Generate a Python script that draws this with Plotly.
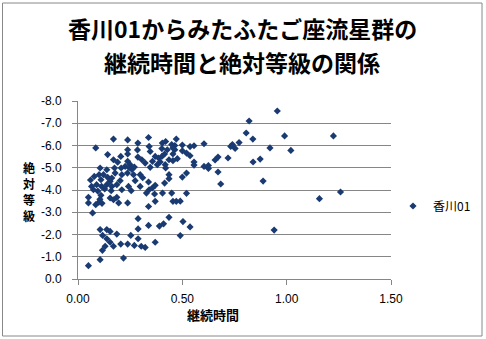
import plotly.graph_objects as go

# 継続時間 (s) and 絶対等級 for each meteor
DURATION = [
    0.955, 0.99, 1.224, 0.92, 1.02, 0.873, 0.887, 1.258, 1.157, 0.94,
    0.82, 0.806, 0.838, 0.772, 0.74, 0.753, 0.732, 0.719, 0.839, 0.684,
    0.671, 0.671, 0.657, 0.625, 0.604, 0.625, 0.604,
    0.556, 0.537, 0.52, 0.537, 0.50, 0.50, 0.556, 0.556, 0.52, 0.50,
    0.52, 0.49, 0.503, 0.537, 0.49, 0.455, 0.471, 0.436, 0.471, 0.42,
    0.449, 0.464, 0.455, 0.428, 0.464, 0.455, 0.436, 0.455, 0.476, 0.42,
    0.436, 0.436, 0.449,
    0.07, 0.288, 0.288, 0.338, 0.39, 0.41, 0.106, 0.138, 0.154, 0.118,
    0.186, 0.253, 0.138, 0.154, 0.288, 0.13, 0.117, 0.17, 0.205, 0.238,
    0.27, 0.303, 0.322, 0.37, 0.218, 0.106, 0.05,
    0.17, 0.238, 0.338, 0.287, 0.085, 0.341, 0.238, 0.402, 0.404, 0.142,
    0.238, 0.205, 0.287, 0.346, 0.37, 0.386, 0.402, 0.415, 0.17, 0.238,
    0.25, 0.306, 0.322, 0.357, 0.346, 0.38, 0.394, 0.418, 0.106, 0.138,
    0.175, 0.207, 0.226, 0.245, 0.258, 0.27, 0.178, 0.21, 0.237, 0.266,
    0.298, 0.078, 0.101, 0.122, 0.142, 0.162, 0.11, 0.154, 0.202, 0.274,
    0.338, 0.37, 0.415, 0.065, 0.089, 0.113, 0.138, 0.162, 0.186, 0.242,
    0.298, 0.074, 0.128, 0.159, 0.21, 0.255, 0.341, 0.05, 0.11, 0.186,
    0.367, 0.405, 0.05, 0.085, 0.10, 0.105, 0.115, 0.154, 0.17, 0.195,
    0.238, 0.338, 0.37, 0.356, 0.328, 0.06, 0.095, 0.31, 0.19, 0.285,
]
MAGNITUDE = [
    -7.55, -6.43, -6.43, -5.89, -5.78, -5.39, -4.40, -3.91, -3.61, -2.20,
    -7.10, -6.56, -6.29, -6.13, -6.04, -5.87, -5.96, -5.44, -5.26, -4.27,
    -4.81, -5.48, -5.35, -4.97, -5.06, -5.10, -6.08,
    -5.99, -5.95, -5.66, -5.54, -5.76, -6.02, -5.26, -5.12, -4.76, -4.58,
    -3.85, -3.50, -2.58, -2.34, -1.95, -3.49, -3.49, -2.77, -6.29, -6.18,
    -6.04, -6.00, -5.89, -5.81, -5.81, -5.62, -5.36, -5.32, -5.41, -4.99,
    -4.69, -4.51, -3.86,
    -2.97, -2.71, -2.25, -2.41, -2.38, -2.48, -2.22, -2.22, -2.14, -1.96,
    -2.02, -1.96, -1.81, -1.65, -1.81, -1.47, -1.29, -1.47, -1.57, -1.57,
    -1.51, -1.47, -1.42, -1.65, -0.94, -0.87, -0.60,
    -6.29, -6.25, -6.36, -6.11, -5.89, -5.96, -5.81, -5.86, -6.11, -5.59,
    -5.62, -5.51, -5.48, -5.73, -5.51, -5.44, -5.51, -5.62, -5.36, -5.29,
    -5.14, -5.36, -5.21, -5.29, -5.02, -5.14, -5.26, -5.14, -4.99, -4.91,
    -4.99, -4.99, -5.06, -5.00, -4.93, -5.03, -4.76, -4.69, -4.76, -4.69,
    -4.69, -4.61, -4.69, -4.69, -4.57, -4.54, -4.46, -4.39, -4.42, -4.42,
    -4.36, -4.21, -4.31, -4.16, -4.24, -4.16, -4.24, -4.16, -4.24, -4.16,
    -4.16, -4.01, -4.05, -3.97, -4.01, -3.97, -4.01, -3.67, -3.76, -3.67,
    -3.82, -3.86, -3.42, -3.34, -3.45, -3.58, -3.40, -3.64, -3.56, -3.42,
    -3.42, -3.26, -3.49, -4.09, -3.86, -4.45, -3.95, -4.55, -5.25, -5.80,
]

SERIES_NAME = "香川01"
TITLE_LINES = ["香川01からみたふたご座流星群の", "継続時間と絶対等級の関係"]
X_TITLE = "継続時間"
Y_TITLE_CHARS = ["絶", "対", "等", "級"]
X_TICKS = [0.0, 0.5, 1.0, 1.5]
X_TICKTEXT = ["0.00", "0.50", "1.00", "1.50"]
Y_TICKS = [0, -1, -2, -3, -4, -5, -6, -7, -8]
Y_TICKTEXT = ["0.0", "-1.0", "-2.0", "-3.0", "-4.0", "-5.0", "-6.0", "-7.0", "-8.0"]

W, H = 486, 339
ML, MR, MT, MB = 78, 95, 101, 60
PW, PH = W - ML - MR, H - MT - MB

def px_x(p):
    return (p - ML) / PW

def px_y(p):
    return (H - MB - p) / PH

GRID = "#868686"
MARK = "#1A3A72"

fig = go.Figure()
fig.add_trace(go.Scatter(
    x=DURATION, y=MAGNITUDE, mode="markers", name=SERIES_NAME,
    marker=dict(symbol="diamond", size=5.5, color=MARK),
))

cjk = "Noto Sans CJK JP"
ann = []
for i, line in enumerate(TITLE_LINES):
    ann.append(dict(text="<b>%s</b>" % line, x=px_x(242), y=px_y([28, 62][i]),
                    xref="paper", yref="paper", xanchor="center", yanchor="middle",
                    showarrow=False, font=dict(family=cjk, size=23, color="#000")))
for i, ch in enumerate(Y_TITLE_CHARS):
    ann.append(dict(text="<b>%s</b>" % ch, x=px_x(29), y=px_y(167 + 16 * i),
                    xref="paper", yref="paper", xanchor="center", yanchor="middle",
                    showarrow=False, borderpad=0,
                    font=dict(family=cjk, size=12, color="#000")))
ann.append(dict(text="<b>%s</b>" % X_TITLE, x=px_x(213), y=px_y(314),
                xref="paper", yref="paper", xanchor="center", yanchor="middle",
                showarrow=False, font=dict(family=cjk, size=13, color="#000")))

fig.update_layout(
    width=W, height=H,
    margin=dict(l=ML, r=MR, t=MT, b=MB, pad=0, autoexpand=False),
    paper_bgcolor="white", plot_bgcolor="white",
    showlegend=True,
    legend=dict(x=px_x(393), y=px_y(206), xanchor="left", yanchor="middle",
                font=dict(family=cjk, size=12, color="#000"),
                bgcolor="rgba(0,0,0,0)", itemwidth=30),
    annotations=ann,
    shapes=[dict(type="rect", xref="paper", yref="paper",
                 x0=px_x(2.5), x1=px_x(482), y0=px_y(336), y1=px_y(3),
                 line=dict(color="#888888", width=1))],
    xaxis=dict(range=[0, 1.5], tickvals=X_TICKS, ticktext=X_TICKTEXT,
               showgrid=False, zeroline=False, showline=True, linecolor=GRID,
               ticks="outside", ticklen=5, tickcolor=GRID, ticklabelstandoff=4,
               tickfont=dict(family="Liberation Sans", size=12, color="#000")),
    yaxis=dict(range=[0, -8], tickvals=Y_TICKS, ticktext=Y_TICKTEXT,
               showgrid=True, gridcolor=GRID, gridwidth=1, zeroline=False,
               showline=True, linecolor=GRID,
               ticks="outside", ticklen=5, tickcolor=GRID, ticklabelstandoff=8,
               tickfont=dict(family="Liberation Sans", size=12, color="#000")),
)

fig.write_html("out.html")
